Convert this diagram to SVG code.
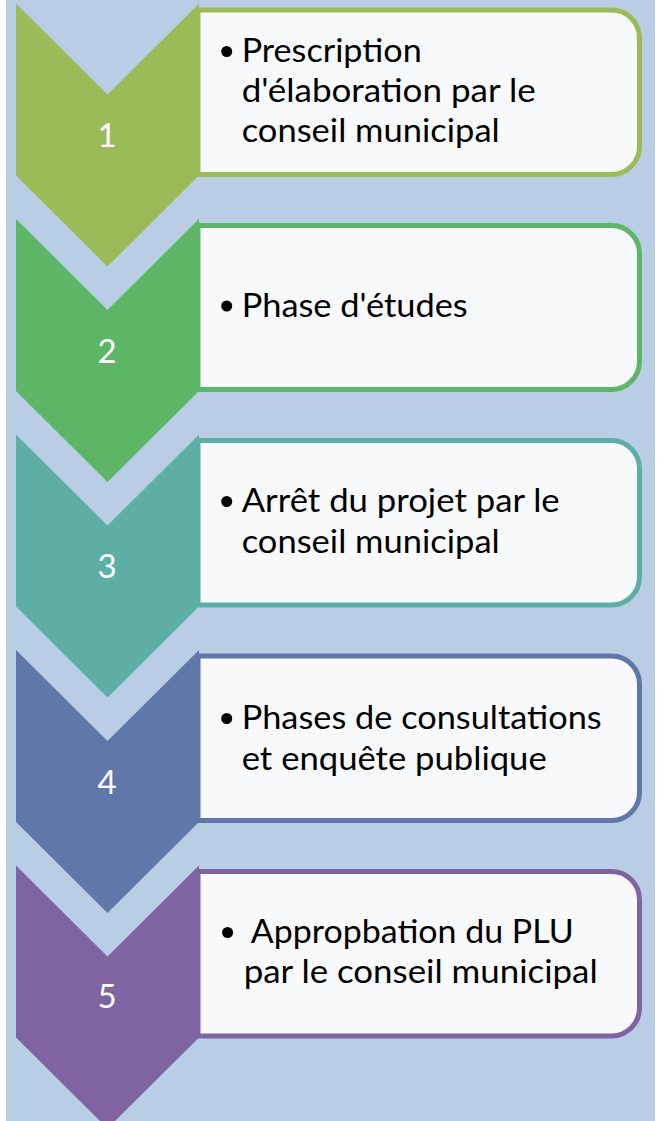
<svg xmlns="http://www.w3.org/2000/svg" width="658" height="1121" viewBox="0 0 658 1121">
  <defs>
    <style>
      .bg { fill: #B9CDE5; }
      .box { fill: #F8F9FB; stroke-width: 5; }
      .num { font-family: Lato, "Liberation Sans", sans-serif; font-size: 33px; fill: #FFFFFF; text-anchor: middle; }
      .txt { font-family: Lato, "Liberation Sans", sans-serif; font-size: 33px; fill: #000000; }
      .dot { fill: #000000; }
      .s1 { fill: #9BBB59; } .b1 { stroke: #9BBB59; }
      .s2 { fill: #5DB566; } .b2 { stroke: #5DB566; }
      .s3 { fill: #5DAFA6; } .b3 { stroke: #5DAFA6; }
      .s4 { fill: #6078A9; } .b4 { stroke: #6078A9; }
      .s5 { fill: #8064A2; } .b5 { stroke: #8064A2; }
    </style>
  </defs>

  <rect x="0" y="0" width="658" height="1121" fill="#FFFFFF"/>
  <rect class="bg" x="6" y="0" width="649" height="1121"/>

  <!-- Step 1 -->
  <g id="step1">
    <path class="box b1" d="M198 10 H611.5 A28 28 0 0 1 639.5 38 V146.5 A28 28 0 0 1 611.5 174.5 H198 Z"/>
    <polygon class="s1" points="16,3.5 107.5,94.5 199,3.5 199,175.5 107.5,266.5 16,175.5"/>
    <text class="num" x="107" y="147">1</text>
    <circle class="dot" cx="226.7" cy="51.5" r="5.5"/>
    <text class="txt" x="241.7" y="62.3" textLength="180" lengthAdjust="spacingAndGlyphs">Prescription</text>
    <text class="txt" x="241.7" y="101.8" textLength="294" lengthAdjust="spacingAndGlyphs">d'élaboration par le</text>
    <text class="txt" x="241.7" y="141.7" textLength="258" lengthAdjust="spacingAndGlyphs">conseil municipal</text>
  </g>

  <!-- Step 2 -->
  <g id="step2">
    <path class="box b2" d="M198 225.5 H611.5 A28 28 0 0 1 639.5 253.5 V361.5 A28 28 0 0 1 611.5 389.5 H198 Z"/>
    <polygon class="s2" points="16,219 107.5,310 199,219 199,391 107.5,482 16,391"/>
    <text class="num" x="107" y="363">2</text>
    <circle class="dot" cx="226.7" cy="306" r="5.5"/>
    <text class="txt" x="241.7" y="316.7" textLength="226" lengthAdjust="spacingAndGlyphs">Phase d'études</text>
  </g>

  <!-- Step 3 -->
  <g id="step3">
    <path class="box b3" d="M198 440.5 H611.5 A28 28 0 0 1 639.5 468.5 V577 A28 28 0 0 1 611.5 605 H198 Z"/>
    <polygon class="s3" points="16,434.5 107.5,525.5 199,434.5 199,606.5 107.5,697.5 16,606.5"/>
    <text class="num" x="107" y="578.3">3</text>
    <circle class="dot" cx="226.7" cy="501.5" r="5.5"/>
    <text class="txt" x="241.7" y="512.3" textLength="318" lengthAdjust="spacingAndGlyphs">Arrêt du projet par le</text>
    <text class="txt" x="241.7" y="553.3" textLength="258" lengthAdjust="spacingAndGlyphs">conseil municipal</text>
  </g>

  <!-- Step 4 -->
  <g id="step4">
    <path class="box b4" d="M198 656 H611.5 A28 28 0 0 1 639.5 684 V792.5 A28 28 0 0 1 611.5 820.5 H198 Z"/>
    <polygon class="s4" points="16,650 107.5,741 199,650 199,822 107.5,913 16,822"/>
    <text class="num" x="107" y="793.5">4</text>
    <circle class="dot" cx="226.7" cy="718.5" r="5.5"/>
    <text class="txt" x="241.7" y="729.3" textLength="360" lengthAdjust="spacingAndGlyphs">Phases de consultations</text>
    <text class="txt" x="241.7" y="770" textLength="305" lengthAdjust="spacingAndGlyphs">et enquête publique</text>
  </g>

  <!-- Step 5 -->
  <g id="step5">
    <path class="box b5" d="M198 871.5 H611.5 A28 28 0 0 1 639.5 899.5 V1008 A28 28 0 0 1 611.5 1036 H198 Z"/>
    <polygon class="s5" points="16,865.5 107.5,956.5 199,865.5 199,1037.5 107.5,1128.5 16,1037.5"/>
    <text class="num" x="107" y="1008">5</text>
    <circle class="dot" cx="227.6" cy="932.5" r="5.5"/>
    <text class="txt" x="250.8" y="943.3" textLength="323" lengthAdjust="spacingAndGlyphs">Appropbation du PLU</text>
    <text class="txt" x="243.7" y="983.3" textLength="354" lengthAdjust="spacingAndGlyphs">par le conseil municipal</text>
  </g>

  <!-- the chevrons chain the steps directly; no separate connectors are drawn -->
  <g id="connectors"/>
</svg>
